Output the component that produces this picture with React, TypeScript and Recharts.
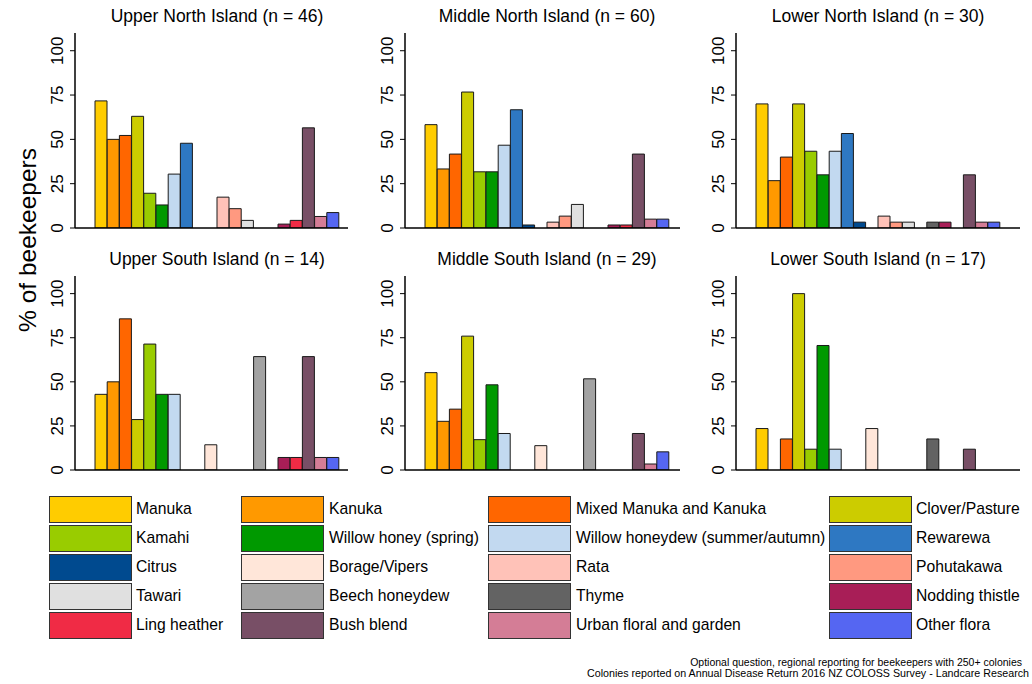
import React from 'react'
import { BarChart, Bar, Cell, XAxis, YAxis } from 'recharts'

const floraNames = [
  'Manuka', 'Kanuka', 'Mixed Manuka and Kanuka', 'Clover/Pasture',
  'Kamahi', 'Willow honey (spring)', 'Willow honeydew (summer/autumn)', 'Rewarewa',
  'Citrus', 'Borage/Vipers', 'Rata', 'Pohutakawa',
  'Tawari', 'Beech honeydew', 'Thyme', 'Nodding thistle',
  'Ling heather', 'Bush blend', 'Urban floral and garden', 'Other flora',
]

const floraColors = [
  '#FFCC00', '#FF9900', '#FF6600', '#CCCC00',
  '#99CC00', '#009900', '#C2D9F0', '#2E78C2',
  '#004A8F', '#FFE6D9', '#FFC2B8', '#FF9980',
  '#E0E0E0', '#A3A3A3', '#636363', '#A81E57',
  '#F02B45', '#784F66', '#D47D96', '#5566F2',
]

const regionTitles = [
  'Upper North Island (n = 46)', 'Middle North Island (n = 60)', 'Lower North Island (n = 30)',
  'Upper South Island (n = 14)', 'Middle South Island (n = 29)', 'Lower South Island (n = 17)',
]

// % of beekeepers, same order as floraNames
const upperNorth = [71.7, 50, 52.2, 63, 19.6, 13, 30.4, 47.8, 0, 0, 17.4, 10.9, 4.3, 0, 0, 2.2, 4.3, 56.5, 6.5, 8.7]
const middleNorth = [58.3, 33.3, 41.7, 76.7, 31.7, 31.7, 46.7, 66.7, 1.7, 0, 3.3, 6.7, 13.3, 0, 0, 1.7, 1.7, 41.7, 5, 5]
const lowerNorth = [70, 26.7, 40, 70, 43.3, 30, 43.3, 53.3, 3.3, 0, 6.7, 3.3, 3.3, 0, 3.3, 3.3, 0, 30, 3.3, 3.3]
const upperSouth = [42.9, 50, 85.7, 28.6, 71.4, 42.9, 42.9, 0, 0, 14.3, 0, 0, 0, 64.3, 0, 7.1, 7.1, 64.3, 7.1, 7.1]
const middleSouth = [55.2, 27.6, 34.5, 75.9, 17.2, 48.3, 20.7, 0, 0, 13.8, 0, 0, 0, 51.7, 0, 0, 0, 20.7, 3.4, 10.3]
const lowerSouth = [23.5, 0, 17.6, 100, 11.8, 70.6, 11.8, 0, 0, 23.5, 0, 0, 0, 0, 17.6, 0, 0, 11.8, 0, 0]

const yTicks = [0, 25, 50, 75, 100]

const regionValues = [upperNorth, middleNorth, lowerNorth, upperSouth, middleSouth, lowerSouth]

// plot area geometry per panel
const panels = [
  { x: 75, top: 33, w: 273, h: 195, padR: 9, titleX: 217 },
  { x: 405, top: 33, w: 275, h: 195, padR: 11, titleX: 547 },
  { x: 736, top: 33, w: 284, h: 195, padR: 20, titleX: 878 },
  { x: 75, top: 276, w: 273, h: 194, padR: 9, titleX: 217 },
  { x: 405, top: 276, w: 275, h: 194, padR: 11, titleX: 547 },
  { x: 736, top: 276, w: 284, h: 194, padR: 20, titleX: 878 },
]

const FONT = '"Liberation Sans", Arial, sans-serif'
const AXIS_W = 40
const PAD_B = 12

const RotatedTick = ({ y, payload }: any) => (
  <text
    x={AXIS_W - 12}
    y={y}
    transform={`rotate(-90, ${AXIS_W - 12}, ${y})`}
    textAnchor="middle"
    fontSize={17}
    fontFamily={FONT}
    fill="#000"
  >
    {payload.value}
  </text>
)

function Panel({ idx }: { idx: number }) {
  const p = panels[idx]
  const data = floraNames.map((name, i) => ({ name, value: regionValues[idx][i] }))
  return (
    <>
      <div
        style={{
          position: 'absolute',
          left: p.titleX - 150,
          width: 300,
          top: p.top - 27,
          textAlign: 'center',
          fontSize: 17.5,
          fontFamily: FONT,
          lineHeight: '20px',
        }}
      >
        {regionTitles[idx]}
      </div>
      <div style={{ position: 'absolute', left: p.x - AXIS_W, top: p.top }}>
        <BarChart
          width={p.w + AXIS_W}
          height={p.h + 1 + PAD_B}
          data={data}
          margin={{ top: 0, right: 0, bottom: PAD_B, left: 0 }}
          barCategoryGap={0}
          barGap={0}
        >
          <XAxis
            dataKey="name"
            height={1}
            tick={false}
            tickLine={false}
            axisLine={{ stroke: '#000', strokeWidth: 1.5 }}
            padding={{ left: 20, right: p.padR }}
          />
          <YAxis
            width={AXIS_W}
            domain={[0, 110]}
            ticks={yTicks}
            interval={0}
            allowDataOverflow
            axisLine={{ stroke: '#000', strokeWidth: 1.5 }}
            tickLine={{ stroke: '#000' }}
            tickSize={5}
            tick={<RotatedTick />}
          />
          <Bar dataKey="value" stroke="#1a1a1a" strokeWidth={1} isAnimationActive={false}>
            {data.map((d, i) => (
              <Cell key={d.name} fill={floraColors[i]} />
            ))}
          </Bar>
        </BarChart>
      </div>
    </>
  )
}

const legendCols = [
  { swatchX: 49, textX: 136 },
  { swatchX: 241, textX: 329 },
  { swatchX: 488, textX: 576 },
  { swatchX: 829, textX: 916 },
]

export default function App() {
  return (
    <div
      style={{
        position: 'absolute',
        left: 0,
        top: 0,
        width: 1032,
        height: 684,
        background: '#fff',
        fontFamily: FONT,
        overflow: 'hidden',
      }}
    >
      <div
        style={{
          position: 'absolute',
          left: 28 - 150,
          top: 240 - 14,
          width: 300,
          height: 28,
          lineHeight: '28px',
          textAlign: 'center',
          fontSize: 24.5,
          transform: 'rotate(-90deg)',
        }}
      >
        % of beekeepers
      </div>

      {panels.map((_, i) => (
        <Panel key={i} idx={i} />
      ))}

      {floraNames.map((name, i) => {
        const col = legendCols[i % 4]
        const row = Math.floor(i / 4)
        const top = 496 + row * 29
        return (
          <React.Fragment key={name}>
            <div
              style={{
                position: 'absolute',
                left: col.swatchX,
                top,
                width: 81,
                height: 25,
                background: floraColors[i],
                border: '1px solid #333',
              }}
            />
            <div
              style={{
                position: 'absolute',
                left: col.textX,
                top: top + 4,
                fontSize: 15.7,
                lineHeight: '18px',
                whiteSpace: 'nowrap',
              }}
            >
              {name}
            </div>
          </React.Fragment>
        )
      })}

      <div
        style={{
          position: 'absolute',
          right: 10,
          top: 656,
          fontSize: 10.5,
          lineHeight: '12px',
          whiteSpace: 'nowrap',
        }}
      >
        Optional question, regional reporting for beekeepers with 250+ colonies
      </div>
      <div
        style={{
          position: 'absolute',
          right: 3,
          top: 667,
          fontSize: 10.7,
          lineHeight: '12px',
          whiteSpace: 'nowrap',
        }}
      >
        Colonies reported on Annual Disease Return 2016 NZ COLOSS Survey - Landcare Research
      </div>
    </div>
  )
}
